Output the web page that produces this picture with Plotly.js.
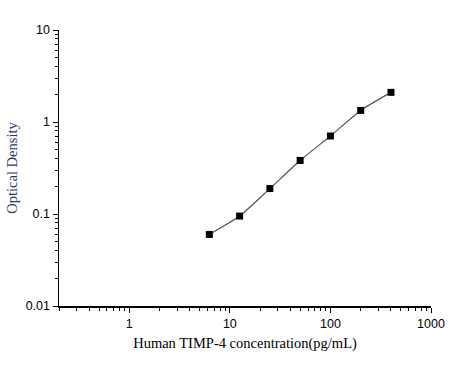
<!DOCTYPE html>
<html>
<head>
<meta charset="utf-8">
<script src="https://cdn.plot.ly/plotly-3.0.1.min.js"></script>
<style>html,body{margin:0;padding:0;background:#fff;}#chart{width:468px;height:365px;}</style>
</head>
<body>
<div id="chart"></div>
<script>
const concentration = [6.25, 12.5, 25, 50, 100, 200, 400];
const opticalDensity = [0.060, 0.095, 0.189, 0.382, 0.704, 1.337, 2.10];
const xTickVals = [1, 10, 100, 1000];
const xTickText = ['1', '10', '100', '1000'];
const yTickVals = [0.01, 0.1, 1, 10];
const yTickText = ['0.01', '0.1', '1', '10'];

const trace = {
  x: concentration,
  y: opticalDensity,
  type: 'scatter',
  mode: 'lines+markers',
  line: {color: '#555555', width: 1.2, shape: 'spline', smoothing: 0.6},
  marker: {symbol: 'square', size: 7, color: '#000000'},
  hoverinfo: 'none'
};

const tickFont = {family: 'Liberation Sans, Arial, sans-serif', size: 12.5, color: '#000'};
const layout = {
  width: 468, height: 365,
  margin: {l: 59, r: 37, t: 30, b: 59},
  paper_bgcolor: '#fff', plot_bgcolor: '#fff',
  showlegend: false,
  xaxis: {
    type: 'log',
    range: [Math.log10(0.2), 3],
    tickvals: xTickVals, ticktext: xTickText,
    ticks: 'outside', ticklen: 5, tickwidth: 1, tickcolor: '#000',
    minor: {ticks: 'outside', ticklen: 3, tickwidth: 1, tickcolor: '#000', dtick: 'D1', showgrid: false},
    showline: true, linecolor: '#000', linewidth: 1.5,
    showgrid: false, zeroline: false,
    tickfont: tickFont,
    title: {text: 'Human TIMP-4 concentration(pg/mL)', font: {family: 'Liberation Serif, Times New Roman, serif', size: 14.5, color: '#000'}, standoff: 8}
  },
  yaxis: {
    type: 'log',
    range: [-2, 1],
    tickvals: yTickVals, ticktext: yTickText,
    ticks: 'outside', ticklen: 5, tickwidth: 1, tickcolor: '#000',
    minor: {ticks: 'outside', ticklen: 3, tickwidth: 1, tickcolor: '#000', dtick: 'D1', showgrid: false},
    showline: true, linecolor: '#000', linewidth: 1.5,
    showgrid: false, zeroline: false,
    tickfont: tickFont,
    title: {text: 'Optical Density', font: {family: 'Liberation Serif, Times New Roman, serif', size: 14.5, color: '#2b3a67'}, standoff: 4}
  }
};

Plotly.newPlot('chart', [trace], layout, {staticPlot: true, displayModeBar: false});
</script>
</body>
</html>
